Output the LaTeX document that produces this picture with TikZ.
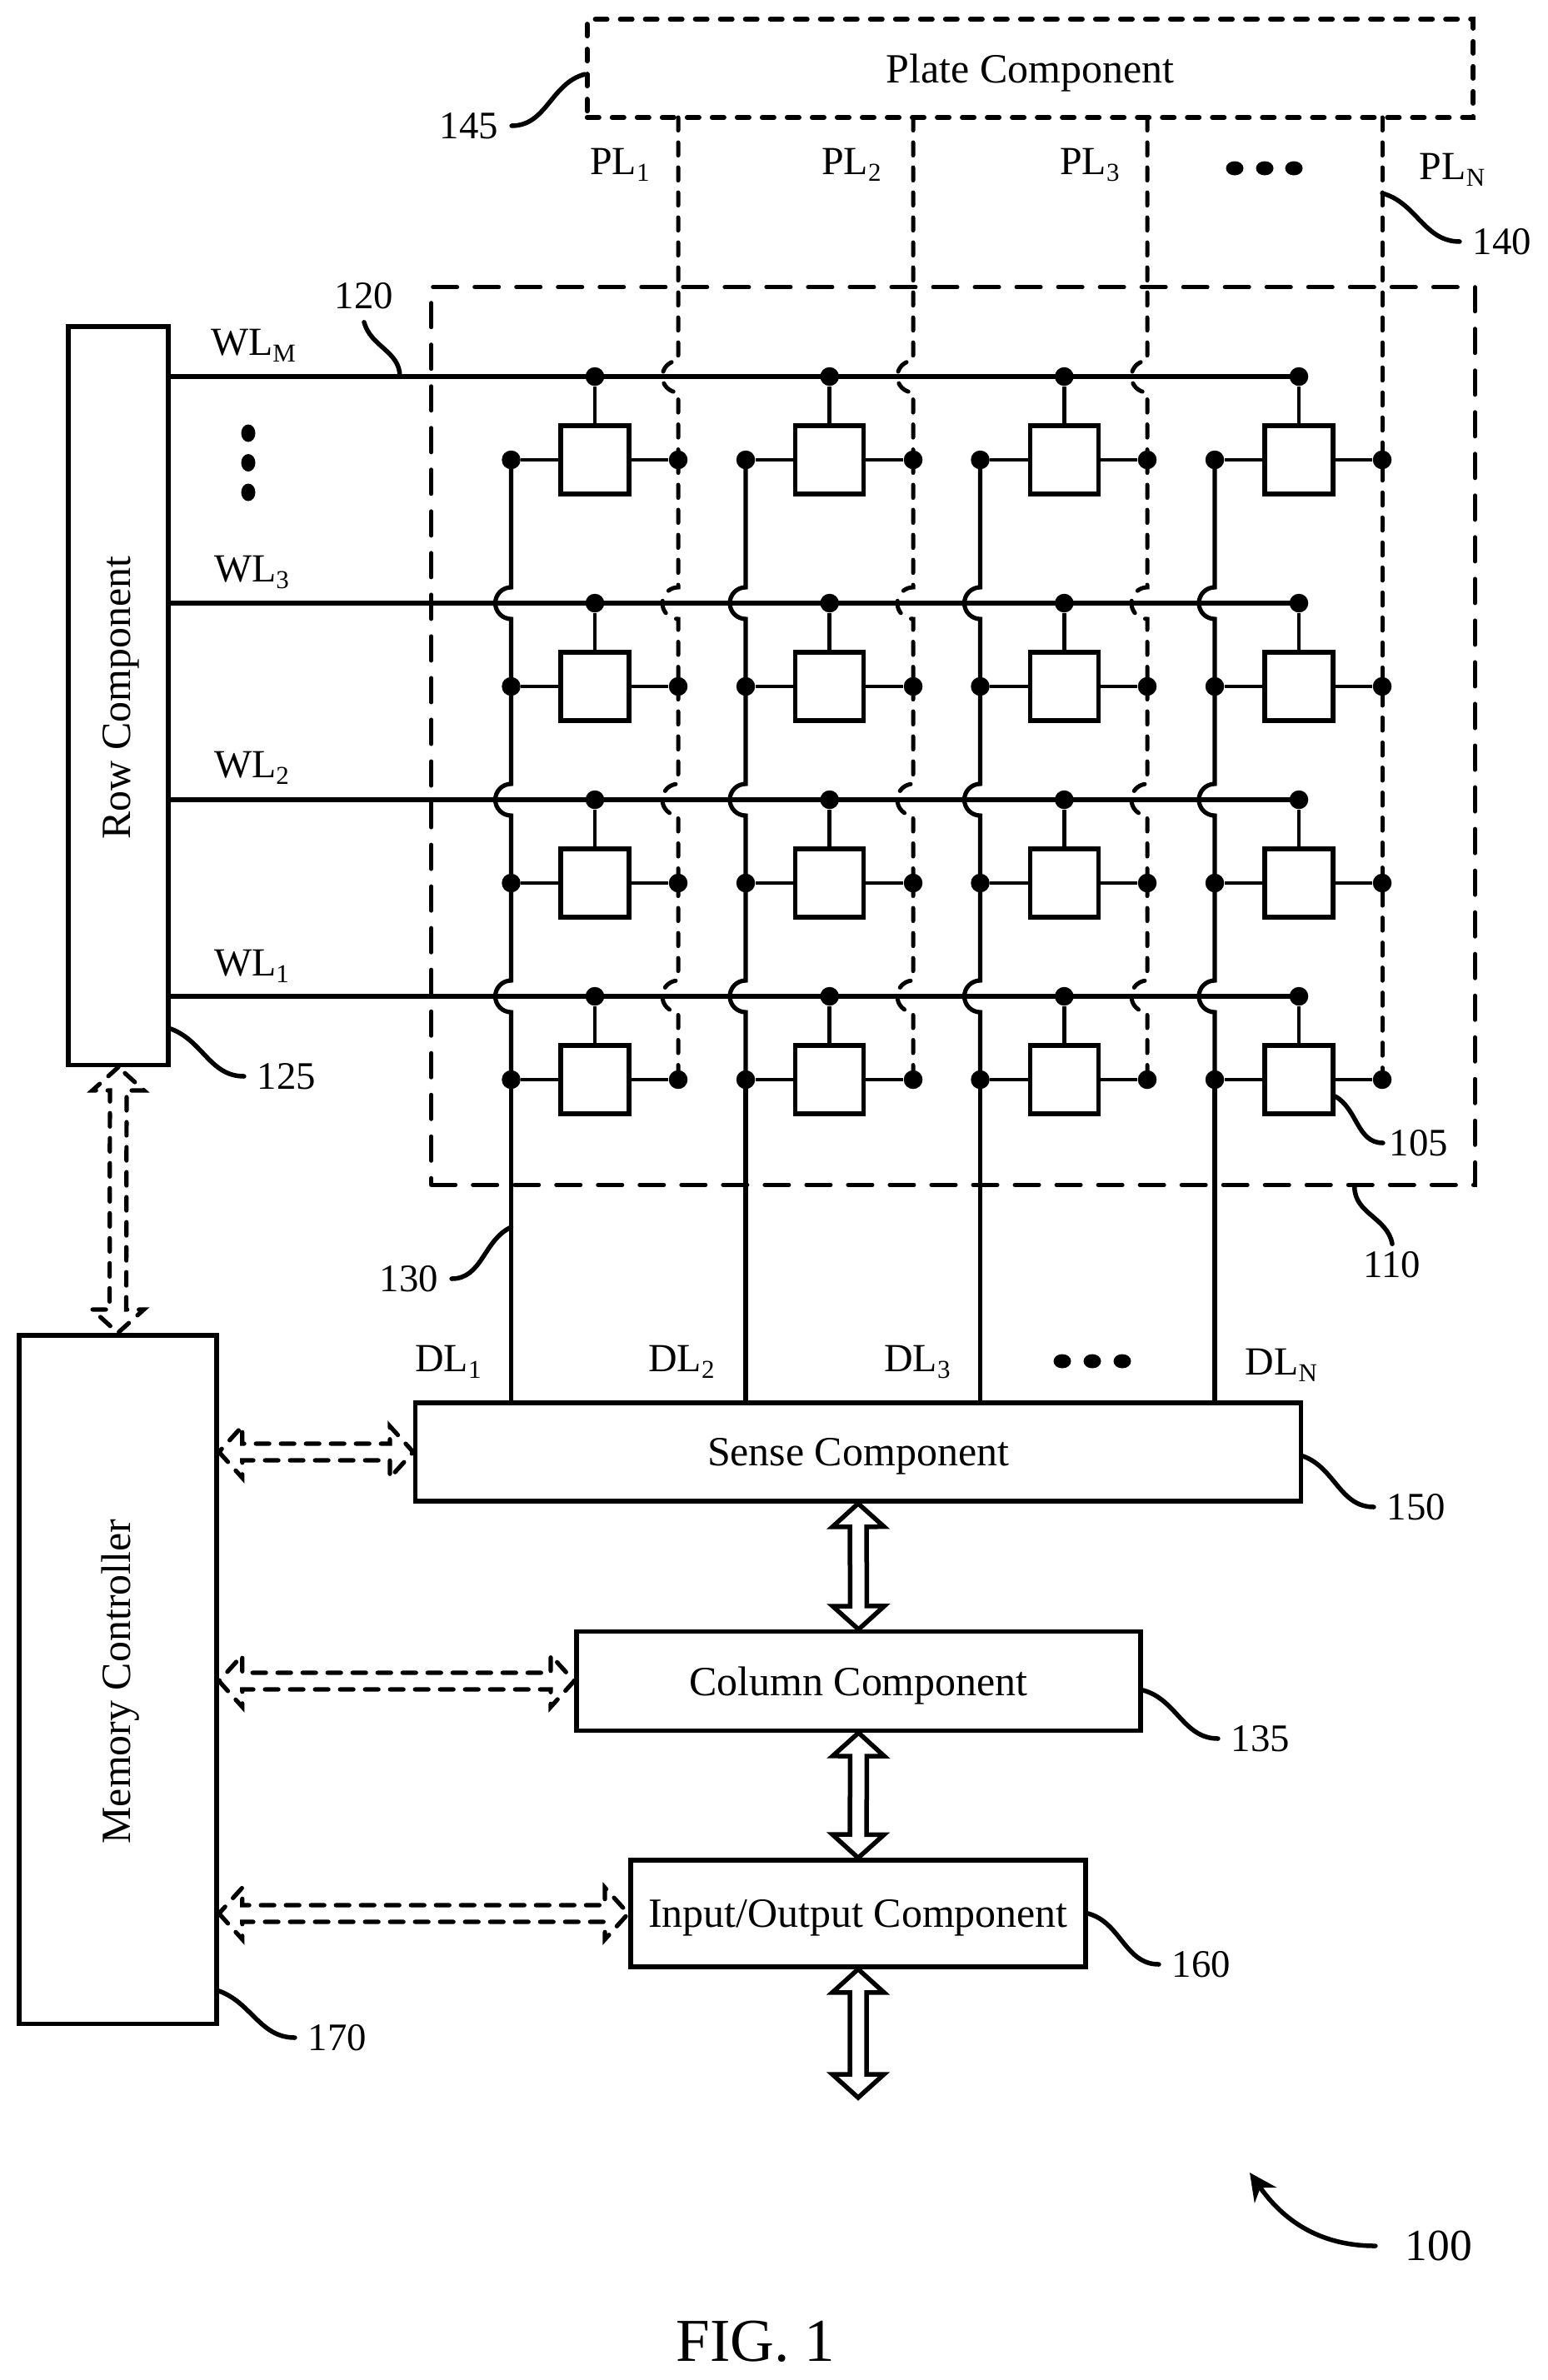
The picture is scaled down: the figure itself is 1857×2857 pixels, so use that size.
\documentclass[tikz,border=0pt]{standalone}
\usepackage{fontspec}
\setmainfont{Liberation Serif}
\usetikzlibrary{calc,arrows.meta,shapes.geometric}

\newcommand{\wsub}[1]{\raisebox{-2.2pt}{\fontsize{8.8}{9}\selectfont #1}}
\newcommand{\sidetext}[1]{\hspace*{2pt}\raisebox{-1.5pt}{\rotatebox{90}{#1}}}
\newcommand{\busarrow}[3][solidbus]{%
	\path ($(#2)!0.28cm!(#3)$) coordinate (ba) ($(#3)!0.28cm!(#2)$) coordinate (bb);
	\draw[#1] (#2) -- ($(ba)!0.31cm!-90:(bb)$) -- ($(ba)!0.10cm!-90:(bb)$)
		-- ($(bb)!0.10cm!90:(ba)$) -- ($(bb)!0.31cm!90:(ba)$) -- (#3)
		-- ($(bb)!0.31cm!-90:(ba)$) -- ($(bb)!0.10cm!-90:(ba)$)
		-- ($(ba)!0.10cm!90:(bb)$) -- ($(ba)!0.31cm!90:(bb)$) -- cycle;}

\tikzset{
	compbox/.style={draw, line width=0.055cm, inner sep=0pt, text depth=0pt, font=\fontsize{14.2}{17}\selectfont},
	cellbox/.style={draw, line width=0.052cm, inner sep=0pt, minimum width=0.82cm, minimum height=0.82cm},
	arraybox/.style={draw, line width=0.05cm, inner sep=0pt, line cap=round, dash pattern=on 0.29cm off 0.21cm},
	platebox/.style={draw, line width=0.058cm, inner sep=0pt, text depth=0pt, line cap=round, dash pattern=on 0.142cm off 0.158cm, font=\fontsize{14.2}{17}\selectfont},
	dotnode/.style={circle, fill=black, inner sep=0pt, minimum size=0.225cm},
	hdots/.style={ellipse, fill=black, inner sep=0pt, minimum width=0.21cm, minimum height=0.17cm},
	vdots/.style={ellipse, fill=black, inner sep=0pt, minimum width=0.17cm, minimum height=0.21cm},
	wordline/.style={line width=0.055cm},
	dataline/.style={line width=0.052cm},
	plateline/.style={line width=0.05cm, line cap=round, dash pattern=on 0.155cm off 0.145cm},
	stub/.style={line width=0.048cm},
	leader/.style={line width=0.055cm, line cap=round},
	solidbus/.style={line width=0.055cm, fill=white, line join=miter},
	dashbus/.style={line width=0.052cm, line cap=round, dash pattern=on 0.16cm off 0.14cm},
	linelabel/.style={inner sep=0pt, font=\fontsize{13.6}{16}\selectfont},
	refnum/.style={inner sep=0pt, outer sep=0.16cm, font=\fontsize{13.3}{15}\selectfont}
}

\begin{document}
\begin{tikzpicture}[x=0.01cm,y=-0.01cm]
	\useasboundingbox (0,0) rectangle (1857,2857);

	% Components
	\node[platebox, minimum width=10.63cm, minimum height=1.18cm] (plate) at (1236.5,82) {Plate Component};
	\node[arraybox, minimum width=12.52cm, minimum height=10.77cm] (array) at (1144,883.5) {};
	\node[compbox, minimum width=1.20cm, minimum height=8.86cm] (row) at (142,835) {\sidetext{Row Component}};
	\node[compbox, minimum width=2.37cm, minimum height=8.26cm] (mem) at (141.5,2016) {\sidetext{Memory Controller}};
	\node[compbox, minimum width=10.62cm, minimum height=1.18cm] (sense) at (1030,1743) {Sense Component};
	\node[compbox, minimum width=6.77cm, minimum height=1.185cm] (col) at (1030.5,2018) {Column Component};
	\node[compbox, minimum width=5.46cm, minimum height=1.28cm] (io) at (1030,2297) {Input/Output Component};
	\coordinate (iobus) at (1030,2518);

	% Memory cells
	\foreach \c/\dx/\cx/\px in {1/613.5/714/814, 2/895/995.7/1096, 3/1176.5/1277.3/1377, 4/1458/1559/1659} {
		\coordinate (pt\c) at (\px,141);
		\foreach \r/\ry in {M/452, 3/724, 2/960, 1/1196} {
			\node[dotnode] (w\r\c) at (\cx,\ry) {};
			\node[dotnode] (d\r\c) at (\dx,\ry+100) {};
			\node[dotnode] (p\r\c) at (\px,\ry+100) {};
			\node[cellbox] (cell\r\c) at (\cx,\ry+100) {};
			\draw[stub] (w\r\c) -- (cell\r\c);
			\draw[stub] (d\r\c) -- (cell\r\c);
			\draw[stub] (cell\r\c) -- (p\r\c);
		}
	}

	% Word lines
	\foreach \r in {M,3,2,1} {
		\draw[wordline] (row.east |- w\r1) -- (w\r4.center);
	}

	% Data lines
	\foreach \c in {1,2,3,4} {
		\foreach \r/\p in {3/M, 2/3, 1/2} {
			\draw[dataline] (d\p\c.center) -- ($(d\r\c |- w\r\c)+(0,-19)$) arc (90:270:0.19cm) -- (d\r\c.center);
		}
		\draw[dataline] (d1\c.center) -- (d1\c |- sense.north);
	}

	% Plate lines
	\foreach \c in {1,2,3} {
		\foreach \r/\p in {M/t, 3/M, 2/3, 1/2} {
			\draw[plateline] (p\p\c.center) -- ($(p\r\c |- w\r\c)+(0,-19)$) arc (90:270:0.19cm) -- (p\r\c.center);
		}
	}
	\draw[plateline] (pt4) -- (p14.center);

	% Line labels
	\node[linelabel] (wlm) at (304,415) {WL\wsub{M}};
	\node[linelabel] (wl3) at (302,687) {WL\wsub{3}};
	\node[linelabel] (wl2) at (302,922) {WL\wsub{2}};
	\node[linelabel] (wl1) at (302,1160) {WL\wsub{1}};
	\node[linelabel] (pl1) at (744,198) {PL\wsub{1}};
	\node[linelabel] (pl2) at (1022,198) {PL\wsub{2}};
	\node[linelabel] (pl3) at (1308,198) {PL\wsub{3}};
	\node[linelabel] (pln) at (1743,204) {PL\wsub{N}};
	\node[linelabel] (dl1) at (538,1635) {DL\wsub{1}};
	\node[linelabel] (dl2) at (818,1635) {DL\wsub{2}};
	\node[linelabel] (dl3) at (1101,1635) {DL\wsub{3}};
	\node[linelabel] (dln) at (1538,1639) {DL\wsub{N}};

	% Ellipsis dots
	\foreach \i/\x in {1/1482, 2/1518, 3/1553} { \node[hdots] (pe\i) at (\x,202) {}; }
	\foreach \i/\x in {1/1275, 2/1311, 3/1347} { \node[hdots] (de\i) at (\x,1634) {}; }
	\foreach \i/\y in {1/520, 2/555.5, 3/591} { \node[vdots] (we\i) at (298,\y) {}; }

	% Reference numbers
	\node[refnum] (n145) at (563,151) {145};
	\node[refnum] (n140) at (1803,290) {140};
	\node[refnum] (n120) at (437,355) {120};
	\node[refnum] (n125) at (344,1292) {125};
	\node[refnum, outer sep=0.08cm] (n105) at (1703,1372) {105};
	\node[refnum, outer sep=0.09cm] (n110) at (1671,1518) {110};
	\node[refnum] (n130) at (491,1535) {130};
	\node[refnum] (n150) at (1700,1809) {150};
	\node[refnum] (n135) at (1513,2087) {135};
	\node[refnum] (n160) at (1442,2358) {160};
	\node[refnum] (n170) at (405,2446) {170};
	\node[refnum, outer sep=0.36cm, font=\fontsize{15.2}{17}\selectfont] (n100) at (1727,2696) {100};
	\node[inner sep=0pt, font=\fontsize{20.8}{24}\selectfont] (fig) at (907,2811) {FIG. 1};

	% Leaders
	\draw[leader] ([yshift=-0.69cm]plate.north west) to[out=195,in=0] (n145.east);
	\draw[leader] ([yshift=-0.91cm]pt4) to[out=-15,in=180] (n140.west);
	\draw[leader] ([xshift=2.75cm]row.east |- wM1) to[out=90,in=-75] (n120.south);
	\draw[leader] ([yshift=0.46cm]row.south east) to[out=-20,in=180] (n125.west);
	\draw[leader] ([yshift=-0.2cm]cell14.east) to[out=-30,in=180] (n105.west);
	\draw[leader] ([xshift=11.1cm]array.south west) to[out=-90,in=100] (n110.north);
	\draw[leader] ([yshift=-1.77cm]d11.center) to[out=205,in=0] (n130.east);
	\draw[leader] ([yshift=-0.05cm]sense.east) to[out=-20,in=180] (n150.west);
	\draw[leader] ([yshift=-0.11cm]col.east) to[out=-15,in=180] (n135.west);
	\draw[leader] (io.east) to[out=-15,in=180] (n160.west);
	\draw[leader] ([yshift=0.42cm]mem.south east) to[out=-20,in=180] (n170.west);
	\draw[leader, -{Stealth[length=0.33cm,width=0.32cm]}] (n100.west) to[out=180,in=-55] (1500,2608);

	% Buses
	\busarrow{sense.south}{col.north}
	\busarrow{col.south}{io.north}
	\busarrow{io.south}{iobus}
	\busarrow[dashbus]{row.south}{mem.north}
	\busarrow[dashbus]{mem.east |- sense.west}{sense.west}
	\busarrow[dashbus]{mem.east |- col.west}{col.west}
	\busarrow[dashbus]{mem.east |- io.west}{io.west}
\end{tikzpicture}
\end{document}
